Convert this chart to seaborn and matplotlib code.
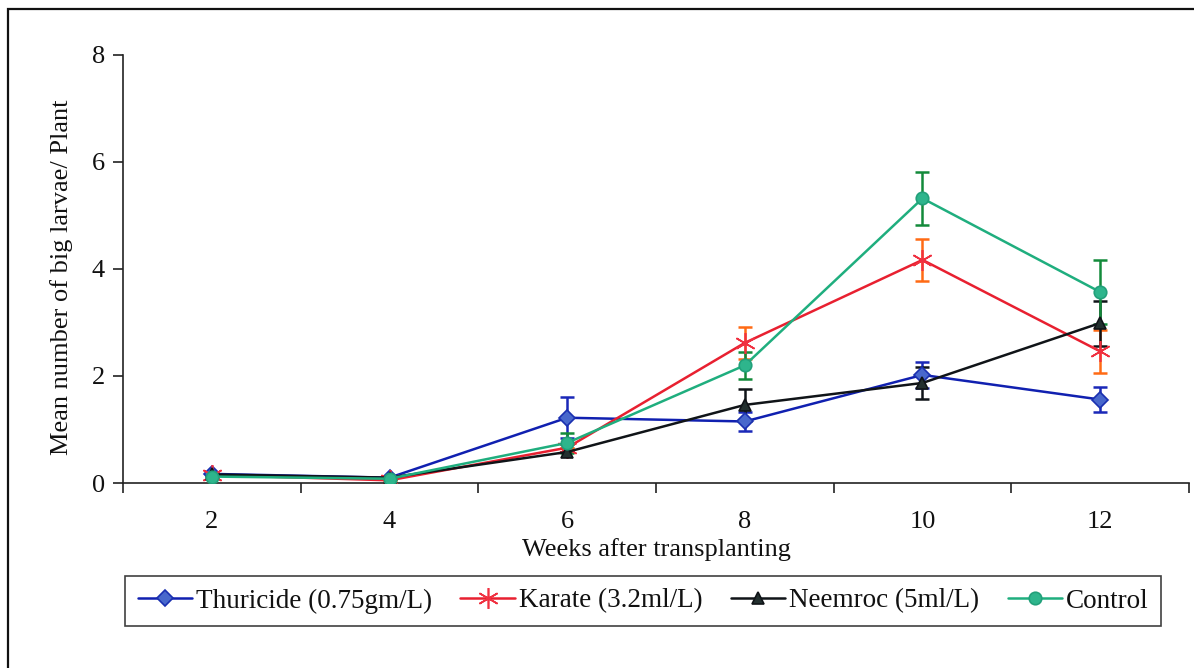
import numpy as np
import pandas as pd
import matplotlib
matplotlib.use("Agg")
import matplotlib.pyplot as plt
from matplotlib.patches import Rectangle
import seaborn as sns

weeks = [2, 4, 6, 8, 10, 12]
series_names = ["Thuricide (0.75gm/L)", "Karate (3.2ml/L)", "Neemroc (5ml/L)", "Control"]
thuricide = [0.17, 0.10, 1.22, 1.15, 2.02, 1.56]
thuricide_err = [0.0, 0.0, 0.38, 0.17, 0.25, 0.23]
karate = [0.15, 0.05, 0.66, 2.62, 4.17, 2.46]
karate_err = [0.0, 0.0, 0.0, 0.30, 0.39, 0.40]
neemroc = [0.16, 0.10, 0.58, 1.46, 1.87, 2.99]
neemroc_err = [0.0, 0.0, 0.0, 0.30, 0.30, 0.42]
control = [0.12, 0.08, 0.75, 2.20, 5.32, 3.57]
control_err = [0.0, 0.0, 0.18, 0.25, 0.50, 0.60]
y_ticks = [0, 2, 4, 6, 8]

values = [thuricide, karate, neemroc, control]
errors = [thuricide_err, karate_err, neemroc_err, control_err]

df = pd.concat([
    pd.DataFrame({"week": weeks, "value": v, "err": e, "series": n})
    for n, v, e in zip(series_names, values, errors)
], ignore_index=True)

styles = {
    "Thuricide (0.75gm/L)": dict(line="#1020b0", marker="D", mfc="#4868cc", mec="#1a30b0", ms=8, ecol="#1a28b8"),
    "Karate (3.2ml/L)": dict(line="#e82030", marker=(6, 2, 0), mfc="#f03040", mec="#f03040", ms=15, ecol="#ff6a14"),
    "Neemroc (5ml/L)": dict(line="#101418", marker="^", mfc="#23302f", mec="#101418", ms=9, ecol="#101418"),
    "Control": dict(line="#1fae7e", marker="o", mfc="#2eb58c", mec="#22a07a", ms=9, ecol="#138a3a"),
}

sns.set_theme(style="white")
plt.rcParams["font.family"] = ["Liberation Serif", "DejaVu Serif"]

fig = plt.figure(figsize=(11.94, 6.68), dpi=100)
ax = fig.add_axes([123 / 1194, 1 - 483 / 668, 1066 / 1194, 428 / 668])

for name in series_names:
    st = styles[name]
    d = df[df["series"] == name]
    ax.errorbar(d["week"], d["value"], yerr=d["err"], fmt="none", ecolor=st["ecol"],
                elinewidth=1.8, capsize=5, capthick=1.8, zorder=2)
    sns.lineplot(data=d, x="week", y="value", ax=ax, color=st["line"], linewidth=1.8,
                 marker=st["marker"], markersize=st["ms"], markerfacecolor=st["mfc"],
                 markeredgecolor=st["mec"], markeredgewidth=1.2, label=name, zorder=3)

ax.set_xlim(weeks[0] - 1, weeks[-1] + 1)
ax.set_ylim(0, 8)
ax.set_yticks(y_ticks)
ax.set_xticks([w - 1 for w in weeks] + [weeks[-1] + 1])
ax.set_xticklabels([])
ax.set_xticks(weeks, minor=True)
ax.set_xticklabels([str(w) for w in weeks], minor=True)
ax.tick_params(axis="x", which="major", direction="out", length=7, width=1.2, color="#222222", bottom=True)
ax.tick_params(axis="x", which="minor", length=0, pad=20, labelsize=19, labelcolor="#111111")
ax.tick_params(axis="y", direction="out", length=7, width=1.2, color="#222222", left=True,
               labelsize=19, labelcolor="#111111", pad=6)

for s in ["top", "right"]:
    ax.spines[s].set_visible(False)
for s in ["left", "bottom"]:
    ax.spines[s].set_color("#222222")
    ax.spines[s].set_linewidth(1.2)

ax.set_xlabel("Weeks after transplanting", fontsize=19, color="#111111", labelpad=4)
ax.set_ylabel("Mean number of big larvae/ Plant", fontsize=19, color="#111111")
ax.yaxis.set_label_coords(-50 / 1066, 0.48)
ax.grid(False)

handles, labels = ax.get_legend_handles_labels()
ax.get_legend().remove()
leg = fig.legend(handles, labels, loc="center", bbox_to_anchor=(643 / 1194, 1 - 601 / 668),
                 ncol=4, frameon=True, fancybox=False, fontsize=19.5, handlelength=2.0,
                 handletextpad=0.15, columnspacing=1.05, borderpad=0.45)
leg.get_frame().set_edgecolor("#111111")
leg.get_frame().set_linewidth(1.2)
for t in leg.get_texts():
    t.set_color("#111111")

fig.patches.append(Rectangle((8 / 1194, -0.05), 1.2, 1.05 - 9 / 668, transform=fig.transFigure,
                             fill=False, edgecolor="#111111", linewidth=1.6))

fig.savefig("out.png", dpi=100, facecolor="white")
